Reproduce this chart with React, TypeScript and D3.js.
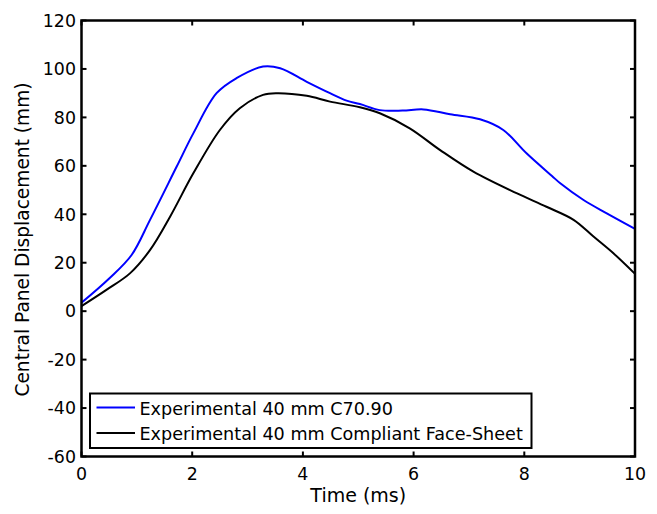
import React from "react";
import * as d3 from "d3";

const blueT = [0, 0.51, 0.905, 1.236, 1.72, 2.02, 2.44, 2.8, 3.28, 3.59, 4.07, 4.49, 4.79, 5.03, 5.39, 5.8, 6.18, 6.66, 7.2, 7.62, 8.04, 8.5, 8.65, 9.07, 9.49, 10];
const blueV = [3.5, 13.7, 23.2, 37.6, 59.7, 73.4, 90, 96.2, 101, 100.3, 94.7, 90, 86.9, 85.5, 83, 82.8, 83.3, 81.3, 79.2, 74.8, 65.2, 55.8, 52.8, 45.9, 40.4, 34];
const blackT = [0, 0.45, 0.875, 1.24, 1.6, 2.02, 2.5, 2.86, 3.28, 3.53, 4.07, 4.49, 5.03, 5.39, 5.93, 6.48, 7.08, 7.86, 8.4, 8.89, 9.25, 9.61, 10];
const blackV = [2.1, 8.8, 15.6, 25.3, 39, 56.9, 74.8, 83.8, 89.3, 90, 88.9, 86.5, 84.2, 81.7, 75.5, 66.5, 57.6, 48.7, 43.1, 37.7, 30.8, 23.9, 15.4];
const xTicks = [0, 2, 4, 6, 8, 10];
const yTicks = [-60, -40, -20, 0, 20, 40, 60, 80, 100, 120];
const legendLabels = ["Experimental 40 mm C70.90", "Experimental 40 mm Compliant Face-Sheet"];
const colors = ["#0000ff", "#000000"];

export default function App() {
  const W = 657, H = 514;
  const L = 81.5, R = 635, T = 20.5, B = 456.5;
  const x = d3.scaleLinear().domain([0, 10]).range([L, R]);
  const y = d3.scaleLinear().domain([-60, 120]).range([B, T]);
  const line = d3.line<[number, number]>().x(d => x(d[0])).y(d => y(d[1])).curve(d3.curveCatmullRom.alpha(0.5));
  const series = [
    blueT.map((t, i) => [t, blueV[i]] as [number, number]),
    blackT.map((t, i) => [t, blackV[i]] as [number, number]),
  ];
  const font = "DejaVu Sans, Verdana, sans-serif";
  const fs = 17.4;
  const tl = 5;
  const rows = [407.5, 433];
  return (
    <svg width={W} height={H} style={{ position: "absolute", left: 0, top: 0, background: "#fff" }} fontFamily={font}>
      <rect x={0} y={0} width={W} height={H} fill="#fff" />
      <defs>
        <clipPath id="clip"><rect x={L} y={T} width={R - L} height={B - T} /></clipPath>
      </defs>
      <g clipPath="url(#clip)">
        {series.map((s, i) => (
          <path key={i} d={line(s) || ""} fill="none" stroke={colors[i]} strokeWidth={2} />
        ))}
      </g>
      {xTicks.map(t => (
        <g key={"x" + t}>
          <line x1={x(t)} x2={x(t)} y1={B} y2={B - tl} stroke="#000" strokeWidth={2} />
          <line x1={x(t)} x2={x(t)} y1={T} y2={T + tl} stroke="#000" strokeWidth={2} />
          <text x={x(t)} y={B + 23} textAnchor="middle" fontSize={fs}>{t}</text>
        </g>
      ))}
      {yTicks.map(v => (
        <g key={"y" + v}>
          <line x1={L} x2={L + tl} y1={y(v)} y2={y(v)} stroke="#000" strokeWidth={2} />
          <line x1={R} x2={R - tl} y1={y(v)} y2={y(v)} stroke="#000" strokeWidth={2} />
          <text x={L - 5.5} y={y(v) + 6.3} textAnchor="end" fontSize={fs}>{v}</text>
        </g>
      ))}
      <rect x={L} y={T} width={R - L} height={B - T} fill="none" stroke="#000" strokeWidth={2.5} />
      <text x={(L + R) / 2} y={502} textAnchor="middle" fontSize={19}>Time (ms)</text>
      <text transform={`translate(28.5,${239.5}) rotate(-90)`} textAnchor="middle" fontSize={18.6}>Central Panel Displacement (mm)</text>
      <g>
        <rect x={90} y={393.5} width={441.5} height={54.5} fill="#fff" stroke="#000" strokeWidth={2} />
        {legendLabels.map((lab, i) => (
          <g key={lab}>
            <line x1={96.5} x2={135} y1={rows[i]} y2={rows[i]} stroke={colors[i]} strokeWidth={2} />
            <text x={139.5} y={rows[i] + 7.2} fontSize={17.6}>{lab}</text>
          </g>
        ))}
      </g>
    </svg>
  );
}
